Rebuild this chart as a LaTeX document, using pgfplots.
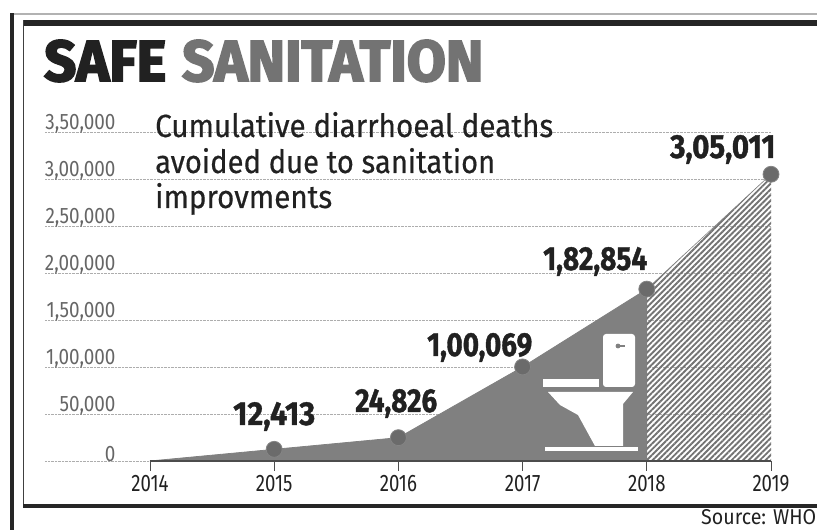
\documentclass[border=0pt]{standalone}
\usepackage{fontspec}
\setmainfont{Fira Sans}
\newfontfamily\titlefont[BoldFeatures={FakeBold=3.2}]{Fira Sans}
\newfontfamily\valuefont[BoldFeatures={FakeBold=1.2}]{Fira Sans}
\newfontfamily\headfont[FakeBold=0.5]{Fira Sans}
\usepackage{pgfplots}
\pgfplotsset{compat=1.18}
\usetikzlibrary{patterns.meta}
\definecolor{areagray}{gray}{0.50}
\definecolor{dotgray}{gray}{0.42}
\definecolor{inkgray}{gray}{0.13}
\definecolor{ticktext}{gray}{0.40}
% Tall narrow setting used for the tick labels
\newcommand\ylab[1]{\scalebox{1}[1.18]{#1}}
\newcommand\xlab[1]{\scalebox{1}[1.28]{#1}}
\begin{document}
\begin{tikzpicture}
\useasboundingbox (0bp,0bp) rectangle (817bp,530bp);
\clip (0bp,0bp) rectangle (817bp,530bp);
\begin{axis}[
  at={(45bp,69bp)}, anchor=origin,
  scale only axis, width=726bp, height=329bp,
  xmin=2013.155, xmax=2019, ymin=0, ymax=350000,
  clip=false,
  axis line style={draw=none},
  scaled y ticks=false,
  xtick={2014,2015,2016,2017,2018,2019},
  xticklabels={\xlab{2014},\xlab{2015},\xlab{2016},\xlab{2017},\xlab{2018},\xlab{2019}},
  xtick pos=bottom, tick align=outside, major tick length=10bp,
  x tick style={draw=black!70, line width=0.9bp},
  y tick style={draw=none},
  ytick={0,50000,100000,150000,200000,250000,300000,350000},
  yticklabels={\ylab{0},\ylab{50,000},\ylab{1,00,000},\ylab{1,50,000},\ylab{2,00,000},\ylab{2,50,000},\ylab{3,00,000},\ylab{3,50,000}},
  ymajorgrids,
  y grid style={densely dotted, draw=black!32, line width=0.7bp},
  /pgf/number format/assume math mode=true,
  xticklabel style={font=\fontsize{18.7}{19}\selectfont, text=inkgray, yshift=-1bp},
  yticklabel style={font=\fontsize{19}{19}\selectfont, text=ticktext, anchor=south east, xshift=84bp, yshift=-4.5bp},
]
  % Cumulative deaths avoided up to 2018
  \addplot[fill=areagray, draw=areagray, line width=0.8bp] coordinates
    {(2014,0) (2015,12413) (2016,24826) (2017,100069) (2018,182854) (2018,0)} -- cycle;
  % Stretch from 2018 to 2019
  \addplot[pattern={Lines[angle=45,distance=4bp,line width=1.9bp]}, pattern color=black!55, draw=none] coordinates
    {(2018,0) (2018,182854) (2019,305011) (2019,0)} -- cycle;
  \addplot[draw=black!50, line width=0.6bp] coordinates {(2018,182854) (2019,305011)};
  % Baseline of the time axis
  \addplot[draw=black!70, line width=1.2bp] coordinates {(2014,0) (2019,0)};
  % Yearly points
  \addplot[only marks, mark=*, mark size=8bp, mark options={fill=dotgray, draw=black!48, line width=0.8bp}] coordinates
    {(2015,12413) (2016,24826) (2017,100069) (2018,182854) (2019,305011)};
\end{axis}
% Everything below is placed in pixel-style coordinates, y running downwards
\begin{scope}[x=1bp,y=-1bp,yshift=530bp]
  % Frame rules
  \fill[black!85] (10,13) rectangle (14,530);
  \fill[black!30] (14,13) rectangle (817,15);
  \fill[black!85] (23,20) rectangle (817,26);
  \fill[black!75] (22.5,20) rectangle (24,507);
  \fill[black!85] (23,504) rectangle (817,508);
  % Toilet pictogram
  \fill[white, rounded corners=3bp] (603,334) rectangle (635,387);
  \fill[white] (543,379) rectangle (599,387);
  \fill[white] (548,392) -- (633,392) -- (623,404) -- (623,446) -- (595,446) -- (578,415) -- (560,405) -- cycle;
  \fill[white] (545,447) rectangle (638,451);
  \fill[areagray] (618,346) circle (2.4);
  \fill[areagray] (618,345.4) rectangle (625,346.6);
  % Title
  \node[anchor=base west, inner sep=0pt, text=inkgray] at (44,81)
    {\resizebox{122bp}{41bp}{\titlefont\bfseries SAFE}};
  \node[anchor=base west, inner sep=0pt, text=black!55] at (182,81)
    {\resizebox{301bp}{41bp}{\titlefont\bfseries SANITATION}};
  % Chart heading
  \node[anchor=base west, inner sep=0pt, text=inkgray] at (155,137)
    {\resizebox{398bp}{25bp}{\headfont Cumulative diarrhoeal deaths}};
  \node[anchor=base west, inner sep=0pt, text=inkgray] at (155,173)
    {\resizebox{340bp}{25bp}{\headfont avoided due to sanitation}};
  \node[anchor=base west, inner sep=0pt, text=inkgray] at (155,208)
    {\resizebox{177bp}{25bp}{\headfont improvments}};
  % Value labels
  \begin{scope}[every node/.style={anchor=base west, inner sep=0pt, text=inkgray}]
    \node at (233,425) {\resizebox{82bp}{23bp}{\valuefont\bfseries 12,413}};
    \node at (355,412) {\resizebox{82bp}{23bp}{\valuefont\bfseries 24,826}};
    \node at (427,356) {\resizebox{105bp}{23bp}{\valuefont\bfseries 1,00,069}};
    \node at (543,270) {\resizebox{104bp}{23bp}{\valuefont\bfseries 1,82,854}};
    \node at (670,158) {\resizebox{105bp}{23bp}{\valuefont\bfseries 3,05,011}};
  \end{scope}
  % Credit
  \node[anchor=base west, inner sep=0pt, text=inkgray] at (701,525)
    {\resizebox{115bp}{15bp}{Source: WHO}};
\end{scope}
\end{tikzpicture}
\end{document}
